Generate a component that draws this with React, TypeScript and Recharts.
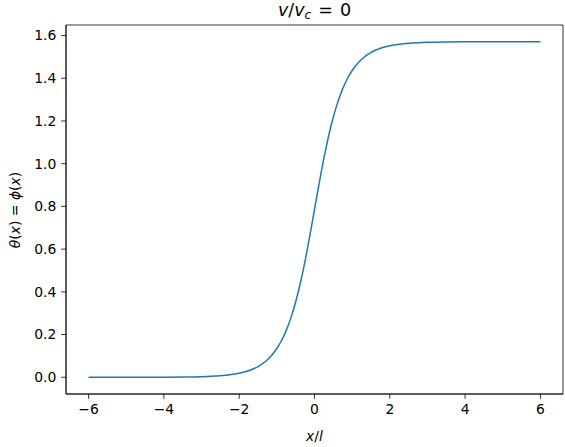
import React from 'react';
import { LineChart, Line, XAxis, YAxis, ReferenceArea } from 'recharts';

const xValues = [
  -6, -5.5, -5, -4.5, -4, -3.5, -3, -2.75, -2.5, -2.25, -2, -1.75, -1.5, -1.25, -1,
  -0.875, -0.75, -0.625, -0.5, -0.375, -0.25, -0.125, 0, 0.125, 0.25, 0.375, 0.5,
  0.625, 0.75, 0.875, 1, 1.25, 1.5, 1.75, 2, 2.25, 2.5, 2.75, 3, 3.5, 4, 4.5, 5, 5.5, 6,
];
const thetaValues = [
  0.0, 0.00002, 0.00005, 0.00012, 0.00034, 0.00091, 0.00248, 0.00409, 0.00674, 0.0111, 0.0183,
  0.0302, 0.0497, 0.0819, 0.1345, 0.1721, 0.2195, 0.2791, 0.3525, 0.4413, 0.5452, 0.6619,
  0.7854, 0.9089, 1.0256, 1.1295, 1.2183, 1.2917, 1.3513, 1.3987, 1.4363, 1.4889, 1.5211,
  1.5406, 1.5525, 1.5597, 1.5641, 1.5667, 1.5683, 1.5699, 1.5705, 1.5707, 1.5708, 1.5708, 1.5708,
];
const xTicks = [-6, -4, -2, 0, 2, 4, 6];
const yTicks = [0, 0.2, 0.4, 0.6, 0.8, 1.0, 1.2, 1.4, 1.6];
const xDomain = [-6.6, 6.6];
const yDomain = [-0.0785, 1.6493];

const data = xValues.map((x, i) => ({ x, theta: thetaValues[i] }));

const font = "'DejaVu Sans', sans-serif";
const tickStyle = { fontFamily: font, fontSize: 13.9, fill: '#000' };
const fmtX = (v: number) => (v < 0 ? '\u2212' + Math.abs(v) : String(v));
const fmtY = (v: number) => v.toFixed(1);

export default function App() {
  return (
    <div style={{ position: 'absolute', left: 0, top: 0, width: 565, height: 447, background: '#fff' }}>
      <LineChart width={565} height={447} data={data} margin={{ top: 25, right: 2, left: 6, bottom: 3 }}>
        <XAxis
          dataKey="x"
          type="number"
          domain={xDomain}
          ticks={xTicks}
          tickFormatter={fmtX}
          height={50}
          tickSize={4.86}
          tickMargin={5}
          tick={tickStyle}
          axisLine={{ stroke: '#000', strokeWidth: 0.8 }}
          tickLine={{ stroke: '#000', strokeWidth: 0.8 }}
          allowDataOverflow
        />
        <YAxis
          type="number"
          domain={yDomain}
          ticks={yTicks}
          tickFormatter={fmtY}
          width={60}
          tickSize={4.86}
          tickMargin={4.86}
          tick={tickStyle}
          axisLine={{ stroke: '#000', strokeWidth: 0.8 }}
          tickLine={{ stroke: '#000', strokeWidth: 0.8 }}
          allowDataOverflow
        />
        <ReferenceArea
          x1={xDomain[0]}
          x2={xDomain[1]}
          y1={yDomain[0]}
          y2={yDomain[1]}
          fill="none"
          fillOpacity={0}
          stroke="#000"
          strokeWidth={0.8}
          ifOverflow="visible"
        />
        <Line
          dataKey="theta"
          type="monotone"
          stroke="#1f77b4"
          strokeWidth={1.5}
          dot={false}
          isAnimationActive={false}
        />
      </LineChart>
      <div
        style={{
          position: 'absolute', left: 314.5, top: 11, transform: 'translate(-50%, -50%)',
          fontFamily: font, fontSize: 17.5, whiteSpace: 'nowrap', lineHeight: 1,
        }}
      >
        <i>v</i>/<i>v</i>
        <span style={{ fontSize: '0.7em', fontStyle: 'italic', position: 'relative', top: '0.25em' }}>c</span>
        <span style={{ display: 'inline-block', width: 7 }} />=
        <span style={{ display: 'inline-block', width: 7 }} />0
      </div>
      <div
        style={{
          position: 'absolute', left: 314.5, top: 437, transform: 'translate(-50%, -50%)',
          fontFamily: font, fontSize: 13.9, whiteSpace: 'nowrap', lineHeight: 1,
        }}
      >
        <i>x</i>/<i>l</i>
      </div>
      <div
        style={{
          position: 'absolute', left: 16, top: 209.5, transform: 'translate(-50%, -50%) rotate(-90deg)',
          fontFamily: font, fontSize: 13.9, whiteSpace: 'nowrap', lineHeight: 1,
        }}
      >
        <i>θ</i>(<i>x</i>) = <i>ϕ</i>(<i>x</i>)
      </div>
    </div>
  );
}
